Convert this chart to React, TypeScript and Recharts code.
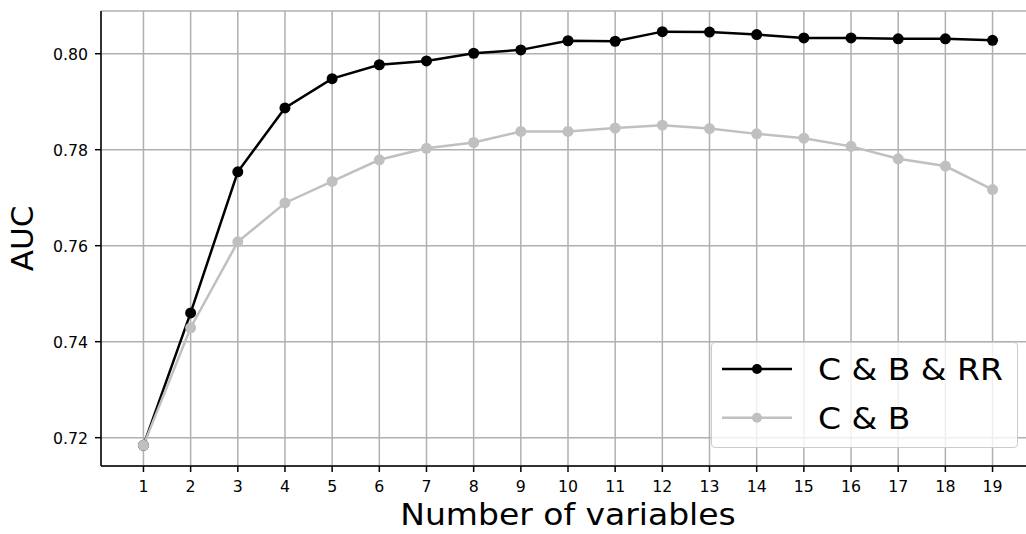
import React from 'react';
import {
  LineChart,
  Line,
  XAxis,
  YAxis,
  CartesianGrid,
  Legend,
} from 'recharts';

// number of variables kept in the model
const variables = [1, 2, 3, 4, 5, 6, 7, 8, 9, 10, 11, 12, 13, 14, 15, 16, 17, 18, 19];

// AUC
const aucCBRR = [
  0.7184, 0.746, 0.7754, 0.7887, 0.7948, 0.7977, 0.7985, 0.8001, 0.8008, 0.8027,
  0.8026, 0.8046, 0.8045, 0.804, 0.8033, 0.8033, 0.8031, 0.8031, 0.8028,
];
const aucCB = [
  0.7184, 0.7429, 0.7608, 0.7689, 0.7734, 0.7779, 0.7803, 0.7815, 0.7838, 0.7838,
  0.7845, 0.7851, 0.7844, 0.7833, 0.7824, 0.7807, 0.7781, 0.7766, 0.7717,
];

const yTicks = [0.72, 0.74, 0.76, 0.78, 0.8];

const seriesNames = ['C & B & RR', 'C & B'];
const seriesColors = ['#000000', '#c0c0c0'];

const data = variables.map((n, i) => ({ n, cbrr: aucCBRR[i], cb: aucCB[i] }));

const FONT = '"DejaVu Sans", sans-serif';

const XTick = ({ x, y, payload }: any) => (
  <g transform={`translate(${x},${y + 17.5})`}>
    <text textAnchor="middle" transform="scale(1.05,1)" fontFamily={FONT} fontSize={15} fill="#000">
      {payload.value}
    </text>
  </g>
);

const YTick = ({ x, y, payload }: any) => (
  <g transform={`translate(${x - 5},${y + 6})`}>
    <text textAnchor="end" transform="scale(1.05,1)" fontFamily={FONT} fontSize={15} fill="#000">
      {Number(payload.value).toFixed(2)}
    </text>
  </g>
);

const XTitle = ({ viewBox }: any) => (
  <g transform={`translate(${viewBox.x + viewBox.width / 2},525)`}>
    <text textAnchor="middle" transform="scale(1.1,1)" fontFamily={FONT} fontSize={30} fill="#000">
      Number of variables
    </text>
  </g>
);

const YTitle = ({ viewBox }: any) => (
  <text
    transform={`translate(33,${viewBox.y + viewBox.height / 2}) rotate(-90)`}
    textAnchor="middle"
    fontFamily={FONT}
    fontSize={31}
    fill="#000"
  >
    AUC
  </text>
);

const LegendBox = () => (
  <div
    style={{
      width: 307,
      height: 106,
      background: 'rgba(255,255,255,0.8)',
      border: '1px solid #cccccc',
      borderRadius: 4,
      boxSizing: 'border-box',
    }}
  >
    <svg width={305} height={104}>
      {seriesNames.map((name, i) => {
        const cy = 26 + i * 48.7;
        return (
          <g key={name}>
            <line x1={10} x2={80} y1={cy} y2={cy} stroke={seriesColors[i]} strokeWidth={2.5} />
            <circle cx={45} cy={cy} r={5} fill={seriesColors[i]} />
            <g transform={`translate(106,${cy + 11})`}>
              <text transform="scale(1.1,1)" fontFamily={FONT} fontSize={30} fill="#000">
                {name}
              </text>
            </g>
          </g>
        );
      })}
    </svg>
  </div>
);

export default function App() {
  return (
    <div
      style={{
        position: 'absolute',
        left: 0,
        top: 0,
        width: 1026,
        height: 534,
        overflow: 'hidden',
        background: '#fff',
      }}
    >
      <LineChart width={1040} height={534} data={data} margin={{ top: 11, right: 5, bottom: 0, left: 0 }}>
        <CartesianGrid stroke="#b0b0b0" strokeWidth={1.5} />
        <XAxis
          dataKey="n"
          type="number"
          domain={[0.1, 19.9]}
          ticks={variables}
          interval={0}
          allowDataOverflow
          height={68}
          tickSize={6}
          tickLine={{ stroke: '#000', strokeWidth: 1.5 }}
          axisLine={{ stroke: '#000', strokeWidth: 1.5 }}
          tick={<XTick />}
          label={<XTitle />}
        />
        <XAxis
          xAxisId="top"
          orientation="top"
          type="number"
          domain={[0.1, 19.9]}
          height={0}
          tick={false}
          tickLine={false}
          axisLine={{ stroke: '#000', strokeWidth: 1.5 }}
        />
        <YAxis
          type="number"
          domain={[0.7141, 0.8089]}
          ticks={yTicks}
          interval={0}
          allowDataOverflow
          width={101}
          tickSize={6}
          tickLine={{ stroke: '#000', strokeWidth: 1.5 }}
          axisLine={{ stroke: '#000', strokeWidth: 1.5 }}
          tick={<YTick />}
          label={<YTitle />}
        />
        <Line
          dataKey="cbrr"
          name={seriesNames[0]}
          stroke={seriesColors[0]}
          strokeWidth={2.5}
          dot={{ r: 5.5, fill: seriesColors[0], stroke: seriesColors[0], strokeWidth: 0 }}
          activeDot={false}
          isAnimationActive={false}
        />
        <Line
          dataKey="cb"
          name={seriesNames[1]}
          stroke={seriesColors[1]}
          strokeWidth={2.5}
          dot={{ r: 5.5, fill: seriesColors[1], stroke: seriesColors[1], strokeWidth: 0 }}
          activeDot={false}
          isAnimationActive={false}
        />
        <Legend
          layout="horizontal"
          verticalAlign="middle"
          align="center"
          content={<LegendBox />}
          wrapperStyle={{ left: 711, top: 342, width: 307, height: 106 }}
        />
      </LineChart>
    </div>
  );
}
